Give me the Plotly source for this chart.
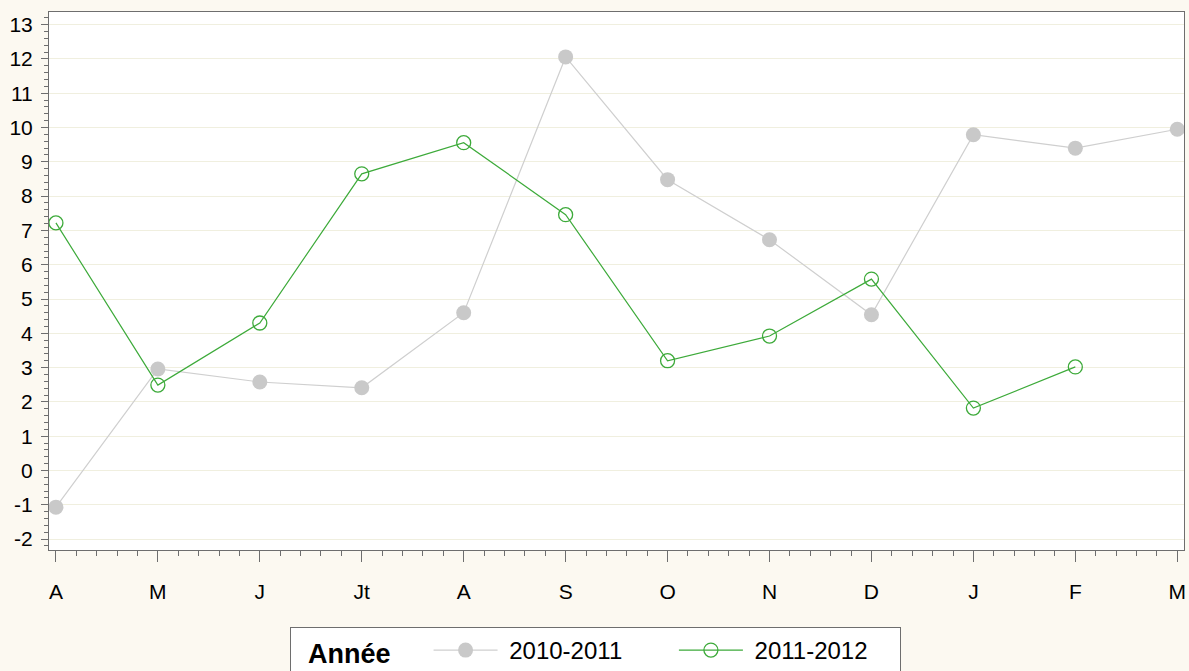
import plotly.graph_objects as go

months = ["A", "M", "J", "Jt", "A", "S", "O", "N", "D", "J", "F", "M"]
serie_2010_2011 = [-1.07, 2.96, 2.58, 2.41, 4.6, 12.06, 8.48, 6.73, 4.54, 9.79, 9.40, 9.95]
serie_2011_2012 = [7.22, 2.49, 4.30, 8.65, 9.56, 7.46, 3.20, 3.92, 5.58, 1.82, 3.02]
y_ticks = list(range(-2, 14))
y_tick_text = [str(v) for v in y_ticks]

x_idx = list(range(len(months)))

fig = go.Figure()
fig.add_trace(go.Scatter(
    x=x_idx[:len(serie_2010_2011)], y=serie_2010_2011, name=" 2010-2011       ",
    mode="lines+markers",
    line=dict(color="#CFCFCF", width=1.2),
    marker=dict(color="#C9C9C9", size=15, symbol="circle"),
))
fig.add_trace(go.Scatter(
    x=x_idx[:len(serie_2011_2012)], y=serie_2011_2012, name=" 2011-2012    ",
    mode="lines+markers",
    line=dict(color="#3DAA3A", width=1.2),
    marker=dict(color="#3DAA3A", size=14, symbol="circle-open", line=dict(width=1.3)),
))

FONT = "Liberation Sans, Arial, sans-serif"
ytick_font = dict(family=FONT, size=21, color="#000000")
xtick_font = dict(family=FONT, size=21, color="#000000")

fig.update_layout(
    width=1189, height=671,
    margin=dict(l=49, r=3, t=12, b=121),
    paper_bgcolor="#FCF9F1",
    plot_bgcolor="#FFFFFF",
    font=dict(family=FONT, size=20, color="#000000"),
    showlegend=True,
    legend=dict(
        orientation="h",
        xref="container", yref="container",
        x=290 / 1189, y=1 - 627 / 671, xanchor="left", yanchor="top",
        bgcolor="#FFFFFF",
        bordercolor="#6E6E6E", borderwidth=1,
        title=dict(text="  <b>Année</b>    ", side="left",
                   font=dict(family=FONT, size=27)),
        font=dict(family=FONT, size=24),
        itemwidth=64,
    ),
    xaxis=dict(
        range=[-0.068, 11.066],
        tickmode="array", tickvals=x_idx, ticktext=months,
        ticks="outside", ticklen=11, tickcolor="#6E6E6E", tickwidth=1,
        showgrid=False, zeroline=False,
        showline=True, linecolor="#6E6E6E", linewidth=1, mirror=True,
        minor=dict(dtick=0.2, ticks="outside", ticklen=5, tickcolor="#6E6E6E", showgrid=False),
        tickfont=xtick_font,
        ticklabelstandoff=12,
    ),
    yaxis=dict(
        range=[-2.32, 13.37],
        tickmode="array", tickvals=y_ticks, ticktext=y_tick_text,
        ticks="outside", ticklen=7, tickcolor="#6E6E6E", tickwidth=1,
        showgrid=True, gridcolor="#F0EFDF", gridwidth=1,
        zeroline=False,
        showline=True, linecolor="#6E6E6E", linewidth=1, mirror=True,
        minor=dict(dtick=0.2, ticks="outside", ticklen=4, tickcolor="#6E6E6E", showgrid=False),
        tickfont=ytick_font,
        ticklabelstandoff=4,
    ),
)

fig.write_html("out.html", config={"displayModeBar": False},
               post_script="document.body.style.margin='0';")
